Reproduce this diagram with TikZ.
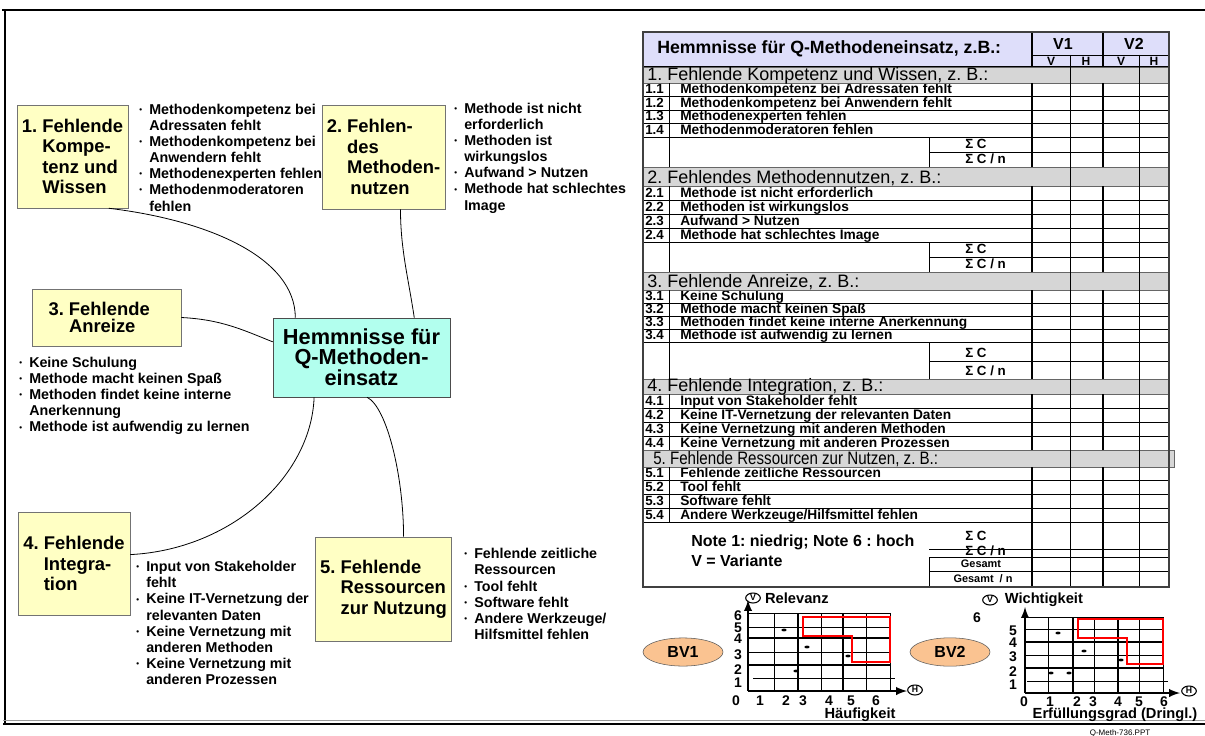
\documentclass[tikz,border=0pt]{standalone}
\usepackage{fontspec}
\setmainfont{Liberation Sans}
\usepackage{xcolor}
\usepackage{tikz}
\usetikzlibrary{shapes,arrows,positioning,calc}

\definecolor{kyellow}{RGB}{255,255,196}
\definecolor{kcyan}{RGB}{178,255,238}
\definecolor{headlav}{RGB}{222,222,250}
\definecolor{secgray}{RGB}{214,214,214}
\definecolor{bvorange}{RGB}{250,195,145}

\newcommand{\bul}{\makebox[7.5pt][l]{\raisebox{0.25ex}{\fontsize{6}{6}\selectfont\textbullet}}}
\newcommand{\ind}{\hspace*{7.5pt}}

\begin{document}
\frenchspacing
\begin{tikzpicture}[x=0.75pt, y=-0.75pt,
    kbox/.style={rectangle, draw=black!55, fill=kyellow, align=left, font=\bfseries\fontsize{13.8}{15.4}\selectfont},
    zbox/.style={rectangle, draw=black!70, fill=kcyan, align=center, minimum width=132.75pt, minimum height=59.25pt, font=\bfseries\fontsize{16.3}{15}\selectfont},
    blist/.style={anchor=west, align=left, inner sep=0pt, font=\bfseries\fontsize{10.7}{12.1}\selectfont},
    link/.style={line width=0.6pt},
    itemtxt/.style={anchor=base west, inner sep=0pt, font=\bfseries\fontsize{10.3}{11}\selectfont},
    itemnum/.style={anchor=base west, inner sep=0pt, font=\bfseries\fontsize{10}{10}\selectfont},
    sectxt/.style={anchor=base west, inner sep=0pt, font=\fontsize{13.5}{14}\selectfont},
    sigtxt/.style={anchor=base west, inner sep=0pt, font=\bfseries\fontsize{10}{11}\selectfont},
    gestxt/.style={inner sep=0pt, font=\bfseries\fontsize{8.2}{9}\selectfont},
    tline/.style={line width=0.6pt},
    tthick/.style={line width=1.6pt},
    gridline/.style={line width=0.75pt},
    gridthick/.style={line width=1.5pt},
    axis/.style={line width=1.8pt, -latex},
    redbox/.style={red, line width=1.9pt},
    bvell/.style={ellipse, draw=black!65, fill=bvorange, minimum width=60pt, minimum height=19pt, font=\bfseries\fontsize{12}{12}\selectfont},
    axlbl/.style={inner sep=0pt, font=\bfseries\fontsize{10.5}{11}\selectfont},
    circlbl/.style={ellipse, draw, line width=0.8pt, inner sep=0pt, minimum width=11pt, minimum height=7.5pt, font=\bfseries\fontsize{6.5}{6.5}\selectfont}]

    \useasboundingbox (0,0) rectangle (1205,735);

    % Rahmen
    \draw[line width=2pt] (2,10) -- (1205,10);
    \draw[line width=2.2pt] (5,10) -- (5,724);
    \draw[black!40, line width=0.7pt] (3,720) -- (1205,720);
    \draw[line width=2pt] (3,724) -- (1205,724);
    \node[font=\fontsize{6}{6}\selectfont, inner sep=0pt] (datei) at (1120,733) {Q-Meth-736.PPT};

    % Hemmnisse (links)
    \node[zbox] (hemmnis) at (361.5,357.5) {Hemmnisse für\\Q-Methoden-\\einsatz};
    \node[kbox, minimum width=83.25pt, minimum height=77.25pt] (kompetenz) at (72.5,156.5)
        {1. Fehlende\\\phantom{1. }Kompe-\\\phantom{1. }tenz und\\\phantom{1. }Wissen};
    \node[kbox, minimum width=92.25pt, minimum height=78pt] (nutzen) at (383.5,157)
        {2. Fehlen-\\\phantom{2. }des\\\phantom{2. }Methoden-\\\phantom{2. }\,nutzen};
    \node[kbox, minimum width=111.75pt, minimum height=42.75pt, font=\bfseries\fontsize{13.8}{12.5}\selectfont] (anreize) at (106.5,317.5)
        {3. Fehlende\hspace*{11pt}\\\phantom{3. }Anreize};
    \node[kbox, minimum width=84pt, minimum height=77.25pt] (integration) at (74,563.5)
        {4. Fehlende\\\phantom{4. }Integra-\\\phantom{4. }tion};
    \node[kbox, minimum width=99.75pt, minimum height=78pt] (ressourcen) at (383.5,589)
        {5. Fehlende\\\phantom{5. }Ressourcen\\\phantom{5. }zur Nutzung};

    \node[blist] (liste1) at (139,157.5) {\bul Methodenkompetenz bei\\\ind Adressaten fehlt\\\bul Methodenkompetenz bei\\\ind Anwendern fehlt\\\bul Methodenexperten fehlen\\\bul Methodenmoderatoren\\\ind fehlen};
    \node[blist] (liste2) at (454,158) {\bul Methode ist nicht\\\ind erforderlich\\\bul Methoden ist\\\ind wirkungslos\\\bul Aufwand > Nutzen\\\bul Methode hat schlechtes\\\ind Image};
    \node[blist] (liste3) at (19,396) {\bul Keine Schulung\\\bul Methode macht keinen Spaß\\\bul Methoden findet keine interne\\\ind Anerkennung\\\bul Methode ist aufwendig zu lernen};
    \node[blist] (liste4) at (136,623) {\bul Input von Stakeholder\\\ind fehlt\\\bul Keine IT-Vernetzung der\\\ind relevanten Daten\\\bul Keine Vernetzung mit\\\ind anderen Methoden\\\bul Keine Vernetzung mit\\\ind anderen Prozessen};
    \node[blist] (liste5) at (464,594) {\bul Fehlende zeitliche\\\ind Ressourcen\\\bul Tool fehlt\\\bul Software fehlt\\\bul Andere Werkzeuge/\\\ind Hilfsmittel fehlen};

    \draw[link] (kompetenz.-55) .. controls +(100,12) and +(0,-60) .. (hemmnis.149);
    \draw[link] (nutzen.-72) .. controls +(0,40) and +(-6,-40) .. (hemmnis.37);
    \draw[link] (anreize.east) .. controls +(40,2) and +(-30,-12) .. (hemmnis.170);
    \draw[link] (hemmnis.-140) .. controls +(-3,80) and +(100,-5) .. (integration.9);
    \draw[link] (hemmnis.-82) .. controls +(20,10) and +(0,-60) .. (ressourcen.69);

    % Tabelle: Kopf
    \draw[fill=headlav, line width=0.8pt] (643,32) rectangle (1169,67);
    \node[anchor=west, inner sep=0pt, font=\bfseries\fontsize{13.3}{14}\selectfont] (tkopf) at (657,49) {Hemmnisse für Q-Methodeneinsatz, z.B.:};
    \draw[tthick] (1032,32) -- (1032,67) (1103,32) -- (1103,67);
    \draw[tline] (1032,55) -- (1169,55) (1070,55) -- (1070,67) (1139,55) -- (1139,67);
    \node[inner sep=0pt, font=\bfseries\fontsize{12}{12}\selectfont] (v1) at (1063,44) {V1};
    \node[inner sep=0pt, font=\bfseries\fontsize{12}{12}\selectfont] (v2) at (1134,44) {V2};
    \foreach \x/\l [count=\i] in {1051/V,1086/H,1121/V,1154/H}
        \node[inner sep=0pt, font=\bfseries\fontsize{9}{9}\selectfont] (vh\i) at (\x,61.5) {\l};

    % Tabelle: Zeilen
    \foreach \ya/\hh/\nr/\txt [count=\i] in {
        83/13.5/1.1/Methodenkompetenz bei Adressaten fehlt,
        96.5/13.5/1.2/Methodenkompetenz bei Anwendern fehlt,
        110/13.5/1.3/Methodenexperten fehlen,
        123.5/13.5/1.4/Methodenmoderatoren fehlen,
        186/14/2.1/Methode ist nicht erforderlich,
        200/14/2.2/Methoden ist wirkungslos,
        214/14/2.3/Aufwand > Nutzen,
        228/14/2.4/Methode hat schlechtes Image,
        290/13/3.1/Keine Schulung,
        303/13/3.2/Methode macht keinen Spaß,
        316/13/3.3/Methoden findet keine interne Anerkennung,
        329/13/3.4/Methode ist aufwendig zu lernen,
        394/14/4.1/Input von Stakeholder fehlt,
        408/14/4.2/Keine IT-Vernetzung der relevanten Daten,
        422/14/4.3/Keine Vernetzung mit anderen Methoden,
        436/14/4.4/Keine Vernetzung mit anderen Prozessen,
        467/13.75/5.1/Fehlende zeitliche Ressourcen,
        480.75/13.75/5.2/Tool fehlt,
        494.5/13.75/5.3/Software fehlt,
        508.25/13.75/5.4/{Andere Werkzeuge/Hilfsmittel fehlen}}
    {
        \draw[tline] (643,\ya) rectangle (1169,\ya+\hh);
        \node[itemnum] (nr\i) at (645,\ya+\hh-3) {\nr};
        \node[itemtxt] (it\i) at (680,\ya+\hh-3) {\txt};
    }

    % Summenzeilen
    \foreach \a/\m/\b [count=\i] in {137/152/167, 242/257/272, 342/361/379} {
        \draw[tline] (929,\a) rectangle (1169,\b) (929,\m) -- (1169,\m);
        \node[sigtxt] (sc\i) at (965,\m-3.5) {Σ C};
        \node[sigtxt] (scn\i) at (965,\b-3.5) {Σ C / n};
    }
    \draw[tline] (929,549) -- (1169,549);
    \draw[tline] (929,557) rectangle (1169,587) (929,571) -- (1169,571);
    \node[sigtxt] (sc4) at (965,540) {Σ C};
    \node[sigtxt] (scn4) at (965,555.5) {Σ C / n};
    \node[gestxt] (ges) at (981,564) {Gesamt};
    \node[gestxt] (gesn) at (983,579) {Gesamt~~/ n};
    \node[anchor=west, inner sep=0pt, align=left, font=\bfseries\fontsize{12}{15}\selectfont] (note) at (691,551)
        {Note 1: niedrig; Note 6 : hoch\\V = Variante};

    % Abschnitte
    \foreach \a/\b/\x/\r/\txt [count=\i] in {
        67/83/647/1169/{1. Fehlende Kompetenz und Wissen, z. B.:},
        167/186/647/1169/{2. Fehlendes Methodennutzen, z. B.:},
        272/290/647/1169/{3. Fehlende Anreize, z. B.:},
        379/394/647/1169/{4. Fehlende Integration, z. B.:},
        450/467/653/1174/{\scalebox{0.84}[1]{5. Fehlende Ressourcen zur Nutzen, z. B.:}}}
    {
        \draw[tline, fill=secgray, draw=black!60] (643,\a) rectangle (\r,\b);
        \node[sectxt] (sec\i) at (\x,\b-3) {\txt};
    }

    % Spalten
    \foreach \a/\b in {83/167, 186/272, 290/379, 394/450, 467/522}
        \draw[tline] (669,\a) -- (669,\b);
    \foreach \a/\b in {83/167, 186/272, 290/379, 394/450, 467/587}
        \draw[tthick] (1032,\a) -- (1032,\b) (1103,\a) -- (1103,\b);
    \draw[tline] (1070,67) -- (1070,587) (1139,67) -- (1139,587);
    \draw[line width=0.9pt, black!75] (643,32) rectangle (1169,587);

    % Bewertung BV1
    \node[bvell] (bv1) at (683,652) {BV1};
    \foreach \x in {774,821,866,890} \draw[gridline] (\x,613) -- (\x,691);
    \foreach \x in {798,843} \draw[gridthick] (\x,613) -- (\x,691);
    \foreach \y in {613,627,652} \draw[gridline] (748,\y) -- (890,\y);
    \foreach \y in {638,665} \draw[gridthick] (748,\y) -- (890,\y);
    \draw[gridline] (753,678) -- (895,678);
    \draw[axis] (748,691) -- (748,600);
    \draw[axis] (748,691) -- (907,691);
    \draw[redbox] (803,617) -- (890,617) -- (890,662) -- (852,662) -- (852,636) -- (803,636) -- cycle;
    \foreach \x/\y in {784/630, 807/647, 848/656, 796/671}
        \fill (\x,\y) ellipse (2.6 and 1.4);
    \foreach \y/\l [count=\i] in {616/6,628/5,639/4,655/3,670/2,683/1}
        \node[axlbl] (ya\i) at (738,\y) {\l};
    \foreach \x/\l [count=\i] in {736/0,760/1,786/2,803/3,829/4,851/5,876/6}
        \node[axlbl] (xa\i) at (\x,701) {\l};
    \node[circlbl] (vkreis1) at (753,598) {V};
    \node[axlbl, right=3pt of vkreis1, font=\bfseries\fontsize{11}{11}\selectfont] (relevanz) {Relevanz};
    \node[circlbl] (hkreis1) at (915,690) {H};
    \node[axlbl, font=\bfseries\fontsize{11}{11}\selectfont] (haeufigkeit) at (860,715) {Häufigkeit};

    % Bewertung BV2
    \node[bvell] (bv2) at (950,652) {BV2};
    \foreach \x in {1048,1094,1139,1163} \draw[gridline] (\x,617) -- (\x,693);
    \foreach \x in {1073,1118} \draw[gridthick] (\x,617) -- (\x,693);
    \foreach \y in {617,629,655} \draw[gridline] (1025,\y) -- (1163,\y);
    \foreach \y in {642,668} \draw[gridthick] (1025,\y) -- (1163,\y);
    \draw[gridline] (1027,681) -- (1168,681);
    \draw[axis] (1025,693) -- (1025,607);
    \draw[axis] (1025,693) -- (1180,693);
    \draw[redbox] (1078,619) -- (1163,619) -- (1163,664) -- (1127,664) -- (1127,638) -- (1078,638) -- cycle;
    \foreach \x/\y in {1058/633, 1084/651, 1121/660, 1051/673, 1069/673}
        \fill (\x,\y) ellipse (2.6 and 1.4);
    \node[axlbl] (sechs) at (977,618) {6};
    \foreach \y/\l [count=\i] in {631/5,643/4,657/3,672/2,685/1}
        \node[axlbl] (yb\i) at (1013,\y) {\l};
    \foreach \x/\l [count=\i] in {1024/0,1050/1,1077/2,1093/3,1118/4,1139/5,1164/6}
        \node[axlbl] (xb\i) at (\x,702) {\l};
    \node[circlbl] (vkreis2) at (990,600) {V};
    \node[axlbl, right=5pt of vkreis2, font=\bfseries\fontsize{11}{11}\selectfont] (wichtigkeit) {Wichtigkeit};
    \node[circlbl] (hkreis2) at (1189,691) {H};
    \node[axlbl, font=\bfseries\fontsize{11}{11}\selectfont] (erfuellung) at (1115,715) {Erfüllungsgrad (Dringl.)};

\end{tikzpicture}
\end{document}
